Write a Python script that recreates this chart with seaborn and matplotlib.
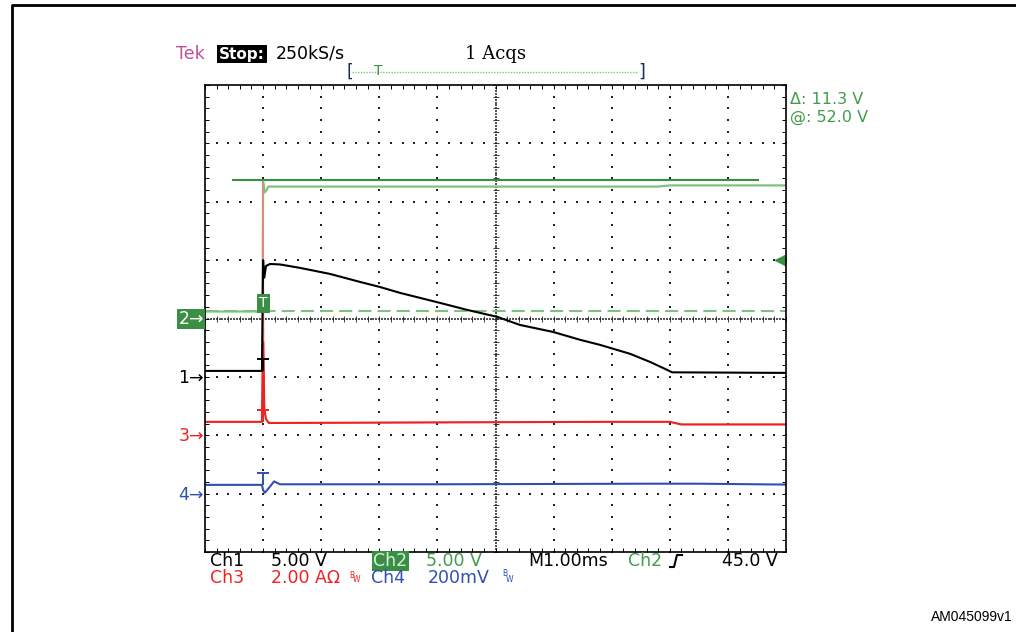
import matplotlib.pyplot as plt
import matplotlib.lines as mlines
from matplotlib.path import Path
import numpy as np
import pandas as pd
import seaborn as sns

# time in ms (M1.00ms/div), trigger at t = 0
ch1_t = [-1.0, -0.02, 0.0, 0.02, 0.05, 0.12, 0.29, 0.64, 1.15, 1.67, 2.01, 2.36, 3.05, 3.51,
         4.03, 4.42, 4.99, 5.46, 5.80, 6.32, 6.66, 6.92, 7.04, 9.0]
ch1_v = [0.51, 0.51, 10.0, 8.5, 9.5, 9.67, 9.63, 9.33, 8.82, 8.13, 7.70, 7.19, 6.33, 5.74,
         5.14, 4.45, 3.85, 3.17, 2.74, 1.97, 1.28, 0.68, 0.39, 0.34]

ch2_t = [-1.0, -0.01, 0.0, 0.03, 0.06, 0.09, 0.2, 4.0, 6.8, 7.0, 9.0]
ch2_v = [0.6, 0.6, 11.7, 10.8, 11.0, 11.3, 11.3, 11.3, 11.3, 11.4, 11.4]

ch3_t = [-1.0, -0.02, 0.0, 0.01, 0.02, 0.05, 0.1, 6.0, 7.0, 7.2, 9.0]
ch3_a = [0.46, 0.46, 8.7, 2.5, 0.9, 0.55, 0.42, 0.46, 0.46, 0.37, 0.37]

ch4_t = [-1.0, -0.02, 0.0, 0.03, 0.09, 0.19, 0.29, 3.0, 6.6, 7.5, 9.0]
ch4_mv = [30, 30, 12, 3, 17, 42, 32, 32, 34, 34, 31]

# volts per division and ground position (divisions from bottom)
scales = {'ch1': 5.0, 'ch2': 5.0, 'ch3': 2.0, 'ch4': 200.0}
grounds = {'ch1': 3, 'ch2': 4, 'ch3': 2, 'ch4': 1}

cursor_v = [0.6, 11.9]       # ch2 cursors (V)
cursor2_span = [-0.52, 8.52]

c1, c2, c2d, c3, c4 = 'black', '#7cc47c', '#3a8f45', '#ee2222', '#3050b0'

W, H = 1016, 632
def fx(px): return px / W
def fy(py): return 1 - py / H

def to_div(vals, ch):
    return grounds[ch] + np.array(vals, dtype=float) / scales[ch]

fig = plt.figure(figsize=(10.16, 6.32), dpi=100)
ax = fig.add_axes([fx(205), fy(552), 581 / W, 467 / H])
ax.set_xlim(-1, 9)
ax.set_ylim(0, 8)

# graticule dots
for t in range(0, 9):
    if t == 4:
        continue
    yy = np.arange(0, 8.01, 0.2)
    ax.scatter(np.full_like(yy, t), yy, s=1.1, marker='s', color='#222222', linewidths=0)
for y in range(1, 8):
    if y == 4:
        continue
    xx = np.arange(-1, 9.01, 0.2)
    ax.scatter(xx, np.full_like(xx, y), s=1.1, marker='s', color='#222222', linewidths=0)

# center cross
xx = np.arange(-1, 9.01, 0.05)
ax.scatter(xx, np.full_like(xx, 4), s=0.8, marker='s', color='#555555', linewidths=0)
yy = np.arange(0, 8.01, 0.05)
ax.scatter(np.full_like(yy, 4), yy, s=0.8, marker='s', color='#555555', linewidths=0)
xx = np.arange(-1, 9.01, 0.2)
ax.scatter(xx, np.full_like(xx, 4), s=18, marker='|', color='#222222', linewidths=0.6)
yy = np.arange(0, 8.01, 0.2)
ax.scatter(np.full_like(yy, 4), yy, s=18, marker='_', color='#222222', linewidths=0.6)

ax.set_xticks(np.arange(-1, 9.01, 1))
ax.set_yticks(np.arange(0, 8.01, 1))
ax.set_xticks(np.arange(-1, 9.01, 0.2), minor=True)
ax.set_yticks(np.arange(0, 8.01, 0.2), minor=True)
ax.tick_params(which='both', direction='in', top=True, right=True, length=3, width=0.7,
               labelbottom=False, labelleft=False)
for s in ax.spines.values():
    s.set_linewidth(1.2)
    s.set_color('black')

# cursors
ax.axhline(to_div(cursor_v[0], 'ch2'), color=c2, lw=1.5, ls=(0, (6.3, 2.9)))
ax.plot(cursor2_span, [to_div(cursor_v[1], 'ch2')] * 2, color=c2d, lw=1.5)

# traces
df1 = pd.DataFrame({'time': ch1_t, 'div': to_div(ch1_v, 'ch1')})
df2 = pd.DataFrame({'time': ch2_t, 'div': to_div(ch2_v, 'ch2')})
df3 = pd.DataFrame({'time': ch3_t, 'div': to_div(ch3_a, 'ch3')})
df4 = pd.DataFrame({'time': ch4_t, 'div': to_div(ch4_mv, 'ch4')})

sns.lineplot(data=df2, x='time', y='div', sort=False, estimator=None, color=c2, lw=1.6, ax=ax)
sns.lineplot(data=df3, x='time', y='div', sort=False, estimator=None, color='#f08080', lw=1.0, ax=ax)
df3b = df3.assign(div=np.minimum(df3['div'], 3.6))
sns.lineplot(data=df3b, x='time', y='div', sort=False, estimator=None, color=c3, lw=1.5, ax=ax)
sns.lineplot(data=df1, x='time', y='div', sort=False, estimator=None, color=c1, lw=1.5, ax=ax)
sns.lineplot(data=df4, x='time', y='div', sort=False, estimator=None, color=c4, lw=1.5, ax=ax)
ax.set_xlabel('')
ax.set_ylabel('')

# trigger position markers ("T") just above each trace
t_mark = Path([(-1, 1), (1, 1), (0, 1), (0, -1)],
              [Path.MOVETO, Path.LINETO, Path.MOVETO, Path.LINETO])
for lvl, col in [(to_div(ch1_v[0], 'ch1'), c1),
                 (to_div(ch3_a[0], 'ch3'), c3),
                 (to_div(ch4_mv[0], 'ch4'), c4)]:
    ax.plot([0], [lvl + 0.1], marker=t_mark, markersize=9, markeredgewidth=1.4,
            color=col, markerfacecolor='none')
ax.text(0, to_div(cursor_v[0], 'ch2') + 0.02, 'T', color='white', fontsize=10, ha='center',
        va='bottom', bbox=dict(facecolor=c2d, edgecolor='none', pad=1.6))

# right trigger level marker
ax.plot([0.99], [5 / 8], marker='<', color=c2d, markersize=7, transform=ax.transAxes,
        clip_on=False)

# left channel markers
fs = 12.5
fig.text(fx(204), fy(319), '2\u2192', color='white', fontsize=fs, ha='right', va='center',
         bbox=dict(facecolor=c2d, edgecolor='none', pad=1.0))
fig.text(fx(204), fy(378), '1\u2192', color=c1, fontsize=fs, ha='right', va='center')
fig.text(fx(204), fy(436), '3\u2192', color=c3, fontsize=fs, ha='right', va='center')
fig.text(fx(204), fy(495), '4\u2192', color=c4, fontsize=fs, ha='right', va='center')

# header
fig.text(fx(176), fy(54), 'Tek', color='#c0509a', fontsize=fs, va='center')
fig.text(fx(219), fy(54), 'Stop:', color='white', fontsize=11, va='center', fontweight='bold',
         bbox=dict(facecolor='black', edgecolor='none', pad=1.4))
fig.text(fx(276), fy(54), '250kS/s', color='black', fontsize=fs, va='center')
fig.text(fx(465), fy(54), '1 Acqs', color='black', fontsize=fs + 0.5, va='center',
         family='DejaVu Serif')
fig.text(fx(346), fy(72), '[', color='#1a2a5a', fontsize=fs, va='center')
fig.text(fx(638), fy(72), ']', color='#1a2a5a', fontsize=fs, va='center')
fig.add_artist(mlines.Line2D([fx(352), fx(638)], [fy(72), fy(72)], color=c2, lw=1.0,
                             ls=(0, (1, 1))))
fig.text(fx(378), fy(71), 'T', color=c2d, fontsize=10, ha='center', va='center')

fig.text(fx(790), fy(100), '\u0394: 11.3 V', color='#3f9c4a', fontsize=11.5, va='center')
fig.text(fx(790), fy(117), '@: 52.0 V', color='#3f9c4a', fontsize=11.5, va='center')

# bottom readout
r1, r2 = 561, 578
fig.text(fx(210), fy(r1), 'Ch1', color='black', fontsize=fs, va='center')
fig.text(fx(271), fy(r1), '5.00 V', color='black', fontsize=fs, va='center')
fig.text(fx(373), fy(r1), 'Ch2', color='#d8f0d8', fontsize=fs, va='center',
         bbox=dict(facecolor=c2d, edgecolor='none', pad=1.0))
fig.text(fx(426), fy(r1), '5.00 V', color='#3f9c4a', fontsize=fs, va='center')
fig.text(fx(528), fy(r1), 'M1.00ms', color='black', fontsize=fs, va='center')
fig.text(fx(628), fy(r1), 'Ch2', color='#3f9c4a', fontsize=fs, va='center')
fig.add_artist(mlines.Line2D([fx(670), fx(674), fx(677), fx(682)],
                             [fy(567), fy(567), fy(555), fy(555)], color='black', lw=1.5))
fig.text(fx(722), fy(r1), '45.0 V', color='black', fontsize=fs, va='center')

fig.text(fx(210), fy(r2), 'Ch3', color=c3, fontsize=fs, va='center')
fig.text(fx(271), fy(r2), '2.00 A\u03a9', color=c3, fontsize=fs, va='center')
fig.text(fx(349), fy(r2 - 3), 'B', color=c3, fontsize=5.5, va='center')
fig.text(fx(353), fy(r2 + 2), 'W', color=c3, fontsize=5.5, va='center')
fig.text(fx(371), fy(r2), 'Ch4', color=c4, fontsize=fs, va='center')
fig.text(fx(428), fy(r2), '200mV', color=c4, fontsize=fs, va='center')
fig.text(fx(502), fy(r2 - 4), 'B', color=c4, fontsize=5.5, va='center')
fig.text(fx(506), fy(r2 + 1), 'W', color=c4, fontsize=5.5, va='center')

fig.text(fx(1013), fy(617), 'AM045099v1', color='black', fontsize=10, ha='right',
         va='center', family='Liberation Sans')

# outer frame
fig.add_artist(mlines.Line2D([fx(12), fx(12), fx(1016)], [fy(640), fy(5), fy(5)],
                             color='black', lw=2.0))

fig.savefig('out.png', dpi=100)
